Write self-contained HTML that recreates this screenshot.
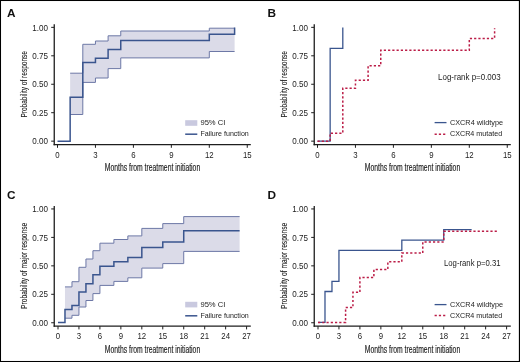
<!DOCTYPE html>
<html><head><meta charset="utf-8"><title>Figure</title>
<style>html,body{margin:0;padding:0;background:#fff;width:520px;height:362px;overflow:hidden}svg{display:block;filter:blur(0.3px)}text{font-family:"Liberation Sans", sans-serif}</style>
</head><body>
<svg width="520" height="362" viewBox="0 0 520 362" font-family='"Liberation Sans", sans-serif'>
<rect x="0" y="0" width="520" height="362" fill="#fff"/>
<text x="7.0" y="17.0" font-size="11.8" font-weight="bold" fill="#111">A</text>
<text x="267.6" y="17.0" font-size="11.8" font-weight="bold" fill="#111">B</text>
<text x="7.0" y="198.6" font-size="11.8" font-weight="bold" fill="#111">C</text>
<text x="267.6" y="198.6" font-size="11.8" font-weight="bold" fill="#111">D</text>
<polygon points="70.15,73.20 82.80,73.20 82.80,44.30 95.45,44.30 95.45,41.00 108.10,41.00 108.10,35.80 120.75,35.80 120.75,31.00 209.30,31.00 209.30,28.20 234.60,28.20 234.60,51.50 209.30,51.50 209.30,57.90 120.75,57.90 120.75,68.60 108.10,68.60 108.10,78.00 95.45,78.00 95.45,82.40 82.80,82.40 82.80,114.50 70.15,114.50" fill="#dbdbe8"/>
<path d="M70.15,73.20L82.80,73.20L82.80,44.30L95.45,44.30L95.45,41.00L108.10,41.00L108.10,35.80L120.75,35.80L120.75,31.00L209.30,31.00L209.30,28.20L234.60,28.20" fill="none" stroke="#6d78a6" stroke-width="1"/>
<path d="M70.15,114.50L82.80,114.50L82.80,82.40L95.45,82.40L95.45,78.00L108.10,78.00L108.10,68.60L120.75,68.60L120.75,57.90L209.30,57.90L209.30,51.50L234.60,51.50" fill="none" stroke="#6d78a6" stroke-width="1"/>
<path d="M57.50,141.15L70.15,141.15L70.15,97.30L82.80,97.30L82.80,62.60L95.45,62.60L95.45,58.30L108.10,58.30L108.10,49.60L120.75,49.60L120.75,40.50L209.30,40.50L209.30,34.30L234.60,34.30L234.60,27.4" fill="none" stroke="#3a558e" stroke-width="1.5"/>
<line x1="54.25" y1="24.30" x2="54.25" y2="145.20" stroke="#1e1e1e" stroke-width="1.3"/>
<line x1="51.2" y1="27.35" x2="54.0" y2="27.35" stroke="#1e1e1e" stroke-width="1"/>
<text x="47.9" y="30.50" text-anchor="end" font-size="8.2" fill="#1c1c1c" textLength="15.70" lengthAdjust="spacingAndGlyphs">1.00</text>
<line x1="51.2" y1="55.80" x2="54.0" y2="55.80" stroke="#1e1e1e" stroke-width="1"/>
<text x="47.9" y="58.95" text-anchor="end" font-size="8.2" fill="#1c1c1c" textLength="15.70" lengthAdjust="spacingAndGlyphs">0.75</text>
<line x1="51.2" y1="84.25" x2="54.0" y2="84.25" stroke="#1e1e1e" stroke-width="1"/>
<text x="47.9" y="87.40" text-anchor="end" font-size="8.2" fill="#1c1c1c" textLength="15.70" lengthAdjust="spacingAndGlyphs">0.50</text>
<line x1="51.2" y1="112.70" x2="54.0" y2="112.70" stroke="#1e1e1e" stroke-width="1"/>
<text x="47.9" y="115.85" text-anchor="end" font-size="8.2" fill="#1c1c1c" textLength="15.70" lengthAdjust="spacingAndGlyphs">0.25</text>
<line x1="51.2" y1="141.15" x2="54.0" y2="141.15" stroke="#1e1e1e" stroke-width="1"/>
<text x="47.9" y="144.30" text-anchor="end" font-size="8.2" fill="#1c1c1c" textLength="15.70" lengthAdjust="spacingAndGlyphs">0.00</text>
<line x1="53.6" y1="144.55" x2="250.8" y2="144.55" stroke="#1e1e1e" stroke-width="1.3"/>
<line x1="57.50" y1="144.55" x2="57.50" y2="147.80" stroke="#1e1e1e" stroke-width="1"/>
<text x="57.50" y="157.80" text-anchor="middle" font-size="8.3" fill="#1c1c1c" textLength="4.35" lengthAdjust="spacingAndGlyphs">0</text>
<line x1="95.45" y1="144.55" x2="95.45" y2="147.80" stroke="#1e1e1e" stroke-width="1"/>
<text x="95.45" y="157.80" text-anchor="middle" font-size="8.3" fill="#1c1c1c" textLength="4.35" lengthAdjust="spacingAndGlyphs">3</text>
<line x1="133.40" y1="144.55" x2="133.40" y2="147.80" stroke="#1e1e1e" stroke-width="1"/>
<text x="133.40" y="157.80" text-anchor="middle" font-size="8.3" fill="#1c1c1c" textLength="4.35" lengthAdjust="spacingAndGlyphs">6</text>
<line x1="171.35" y1="144.55" x2="171.35" y2="147.80" stroke="#1e1e1e" stroke-width="1"/>
<text x="171.35" y="157.80" text-anchor="middle" font-size="8.3" fill="#1c1c1c" textLength="4.35" lengthAdjust="spacingAndGlyphs">9</text>
<line x1="209.30" y1="144.55" x2="209.30" y2="147.80" stroke="#1e1e1e" stroke-width="1"/>
<text x="209.30" y="157.80" text-anchor="middle" font-size="8.3" fill="#1c1c1c" textLength="8.70" lengthAdjust="spacingAndGlyphs">12</text>
<line x1="247.25" y1="144.55" x2="247.25" y2="147.80" stroke="#1e1e1e" stroke-width="1"/>
<text x="247.25" y="157.80" text-anchor="middle" font-size="8.3" fill="#1c1c1c" textLength="8.70" lengthAdjust="spacingAndGlyphs">15</text>
<text x="104.8" y="170.60" font-size="10" fill="#1c1c1c" stroke="#1c1c1c" stroke-width="0.15" textLength="95.4" lengthAdjust="spacingAndGlyphs">Months from treatment initiation</text>
<text transform="translate(26.70,84.30) rotate(-90)" x="0" y="0" text-anchor="middle" font-size="9.3" fill="#1c1c1c" stroke="#1c1c1c" stroke-width="0.12" textLength="66.6" lengthAdjust="spacingAndGlyphs">Probability of response</text>
<rect x="185.2" y="120.2" width="12.1" height="5.6" fill="#c9c9df"/>
<text x="200.4" y="124.9" font-size="7.8" fill="#1c1c1c" textLength="25.0" lengthAdjust="spacingAndGlyphs">95% CI</text>
<line x1="185.2" y1="134.2" x2="197.3" y2="134.2" stroke="#3a558e" stroke-width="1.5"/>
<text x="200.4" y="136.4" font-size="7.8" fill="#1c1c1c" textLength="48.4" lengthAdjust="spacingAndGlyphs">Failure function</text>
<path d="M317.50,141.15L330.15,141.15L330.15,48.4L342.80,48.4L342.80,27.5" fill="none" stroke="#3a558e" stroke-width="1.3"/>
<path d="M317.50,141.15L330.15,141.15L330.15,133.20L342.80,133.20L342.80,88.20L355.45,88.20L355.45,80.30L368.10,80.30L368.10,65.70L380.75,65.70L380.75,50.20L469.30,50.20L469.30,38.50L494.60,38.50L494.60,28.3" fill="none" stroke="#bb1d47" stroke-width="1.5" stroke-dasharray="2.2 2.05"/>
<line x1="314.25" y1="24.30" x2="314.25" y2="145.20" stroke="#1e1e1e" stroke-width="1.3"/>
<line x1="311.2" y1="27.35" x2="314.0" y2="27.35" stroke="#1e1e1e" stroke-width="1"/>
<text x="307.9" y="30.50" text-anchor="end" font-size="8.2" fill="#1c1c1c" textLength="15.70" lengthAdjust="spacingAndGlyphs">1.00</text>
<line x1="311.2" y1="55.80" x2="314.0" y2="55.80" stroke="#1e1e1e" stroke-width="1"/>
<text x="307.9" y="58.95" text-anchor="end" font-size="8.2" fill="#1c1c1c" textLength="15.70" lengthAdjust="spacingAndGlyphs">0.75</text>
<line x1="311.2" y1="84.25" x2="314.0" y2="84.25" stroke="#1e1e1e" stroke-width="1"/>
<text x="307.9" y="87.40" text-anchor="end" font-size="8.2" fill="#1c1c1c" textLength="15.70" lengthAdjust="spacingAndGlyphs">0.50</text>
<line x1="311.2" y1="112.70" x2="314.0" y2="112.70" stroke="#1e1e1e" stroke-width="1"/>
<text x="307.9" y="115.85" text-anchor="end" font-size="8.2" fill="#1c1c1c" textLength="15.70" lengthAdjust="spacingAndGlyphs">0.25</text>
<line x1="311.2" y1="141.15" x2="314.0" y2="141.15" stroke="#1e1e1e" stroke-width="1"/>
<text x="307.9" y="144.30" text-anchor="end" font-size="8.2" fill="#1c1c1c" textLength="15.70" lengthAdjust="spacingAndGlyphs">0.00</text>
<line x1="313.6" y1="144.55" x2="510.8" y2="144.55" stroke="#1e1e1e" stroke-width="1.3"/>
<line x1="317.50" y1="144.55" x2="317.50" y2="147.80" stroke="#1e1e1e" stroke-width="1"/>
<text x="317.50" y="157.80" text-anchor="middle" font-size="8.3" fill="#1c1c1c" textLength="4.35" lengthAdjust="spacingAndGlyphs">0</text>
<line x1="355.45" y1="144.55" x2="355.45" y2="147.80" stroke="#1e1e1e" stroke-width="1"/>
<text x="355.45" y="157.80" text-anchor="middle" font-size="8.3" fill="#1c1c1c" textLength="4.35" lengthAdjust="spacingAndGlyphs">3</text>
<line x1="393.40" y1="144.55" x2="393.40" y2="147.80" stroke="#1e1e1e" stroke-width="1"/>
<text x="393.40" y="157.80" text-anchor="middle" font-size="8.3" fill="#1c1c1c" textLength="4.35" lengthAdjust="spacingAndGlyphs">6</text>
<line x1="431.35" y1="144.55" x2="431.35" y2="147.80" stroke="#1e1e1e" stroke-width="1"/>
<text x="431.35" y="157.80" text-anchor="middle" font-size="8.3" fill="#1c1c1c" textLength="4.35" lengthAdjust="spacingAndGlyphs">9</text>
<line x1="469.30" y1="144.55" x2="469.30" y2="147.80" stroke="#1e1e1e" stroke-width="1"/>
<text x="469.30" y="157.80" text-anchor="middle" font-size="8.3" fill="#1c1c1c" textLength="8.70" lengthAdjust="spacingAndGlyphs">12</text>
<line x1="507.25" y1="144.55" x2="507.25" y2="147.80" stroke="#1e1e1e" stroke-width="1"/>
<text x="507.25" y="157.80" text-anchor="middle" font-size="8.3" fill="#1c1c1c" textLength="8.70" lengthAdjust="spacingAndGlyphs">15</text>
<text x="364.8" y="170.60" font-size="10" fill="#1c1c1c" stroke="#1c1c1c" stroke-width="0.15" textLength="95.4" lengthAdjust="spacingAndGlyphs">Months from treatment initiation</text>
<text transform="translate(286.70,84.30) rotate(-90)" x="0" y="0" text-anchor="middle" font-size="9.3" fill="#1c1c1c" stroke="#1c1c1c" stroke-width="0.12" textLength="66.6" lengthAdjust="spacingAndGlyphs">Probability of response</text>
<text x="500.6" y="80.1" text-anchor="end" font-size="8.3" fill="#1c1c1c" textLength="62.5" lengthAdjust="spacingAndGlyphs">Log-rank p=0.003</text>
<line x1="434.6" y1="122.6" x2="446.5" y2="122.6" stroke="#3a558e" stroke-width="1.3"/>
<text x="450" y="125.4" font-size="7.8" fill="#1c1c1c" textLength="53" lengthAdjust="spacingAndGlyphs">CXCR4 wildtype</text>
<line x1="434.6" y1="134.2" x2="446.5" y2="134.2" stroke="#bb1d47" stroke-width="1.5" stroke-dasharray="2.2 2.05"/>
<text x="450" y="136.2" font-size="7.8" fill="#1c1c1c" textLength="52.3" lengthAdjust="spacingAndGlyphs">CXCR4 mutated</text>
<polygon points="64.98,286.90 71.97,286.90 71.97,281.70 78.95,281.70 78.95,267.30 85.94,267.30 85.94,259.00 92.93,259.00 92.93,250.70 99.91,250.70 99.91,243.20 113.88,243.20 113.88,239.50 127.85,239.50 127.85,235.90 141.82,235.90 141.82,228.40 162.78,228.40 162.78,223.60 183.73,223.60 183.73,216.60 239.61,216.60 239.61,251.40 183.73,251.40 183.73,263.60 162.78,263.60 162.78,268.10 141.82,268.10 141.82,277.80 127.85,277.80 127.85,281.40 113.88,281.40 113.88,285.40 99.91,285.40 99.91,293.60 92.93,293.60 92.93,300.50 85.94,300.50 85.94,307.00 78.95,307.00 78.95,315.30 71.97,315.30 71.97,318.20 64.98,318.20" fill="#dbdbe8"/>
<path d="M64.98,286.90L71.97,286.90L71.97,281.70L78.95,281.70L78.95,267.30L85.94,267.30L85.94,259.00L92.93,259.00L92.93,250.70L99.91,250.70L99.91,243.20L113.88,243.20L113.88,239.50L127.85,239.50L127.85,235.90L141.82,235.90L141.82,228.40L162.78,228.40L162.78,223.60L183.73,223.60L183.73,216.60L239.61,216.60" fill="none" stroke="#6d78a6" stroke-width="1"/>
<path d="M64.98,318.20L71.97,318.20L71.97,315.30L78.95,315.30L78.95,307.00L85.94,307.00L85.94,300.50L92.93,300.50L92.93,293.60L99.91,293.60L99.91,285.40L113.88,285.40L113.88,281.40L127.85,281.40L127.85,277.80L141.82,277.80L141.82,268.10L162.78,268.10L162.78,263.60L183.73,263.60L183.73,251.40L239.61,251.40" fill="none" stroke="#6d78a6" stroke-width="1"/>
<path d="M58.00,322.4L64.98,322.4L64.98,309.40L71.97,309.40L71.97,305.40L78.95,305.40L78.95,292.10L85.94,292.10L85.94,283.70L92.93,283.70L92.93,274.80L99.91,274.80L99.91,266.30L113.88,266.30L113.88,261.80L127.85,261.80L127.85,257.50L141.82,257.50L141.82,247.60L162.78,247.60L162.78,242.00L183.73,242.00L183.73,230.70L239.61,230.70" fill="none" stroke="#3a558e" stroke-width="1.5"/>
<line x1="54.25" y1="205.90" x2="54.25" y2="326.80" stroke="#1e1e1e" stroke-width="1.3"/>
<line x1="51.2" y1="208.95" x2="54.0" y2="208.95" stroke="#1e1e1e" stroke-width="1"/>
<text x="47.9" y="212.10" text-anchor="end" font-size="8.2" fill="#1c1c1c" textLength="15.70" lengthAdjust="spacingAndGlyphs">1.00</text>
<line x1="51.2" y1="237.40" x2="54.0" y2="237.40" stroke="#1e1e1e" stroke-width="1"/>
<text x="47.9" y="240.55" text-anchor="end" font-size="8.2" fill="#1c1c1c" textLength="15.70" lengthAdjust="spacingAndGlyphs">0.75</text>
<line x1="51.2" y1="265.85" x2="54.0" y2="265.85" stroke="#1e1e1e" stroke-width="1"/>
<text x="47.9" y="269.00" text-anchor="end" font-size="8.2" fill="#1c1c1c" textLength="15.70" lengthAdjust="spacingAndGlyphs">0.50</text>
<line x1="51.2" y1="294.30" x2="54.0" y2="294.30" stroke="#1e1e1e" stroke-width="1"/>
<text x="47.9" y="297.45" text-anchor="end" font-size="8.2" fill="#1c1c1c" textLength="15.70" lengthAdjust="spacingAndGlyphs">0.25</text>
<line x1="51.2" y1="322.75" x2="54.0" y2="322.75" stroke="#1e1e1e" stroke-width="1"/>
<text x="47.9" y="325.90" text-anchor="end" font-size="8.2" fill="#1c1c1c" textLength="15.70" lengthAdjust="spacingAndGlyphs">0.00</text>
<line x1="53.6" y1="326.15" x2="250.8" y2="326.15" stroke="#1e1e1e" stroke-width="1.3"/>
<line x1="58.00" y1="326.15" x2="58.00" y2="329.40" stroke="#1e1e1e" stroke-width="1"/>
<text x="58.00" y="339.40" text-anchor="middle" font-size="8.3" fill="#1c1c1c" textLength="4.35" lengthAdjust="spacingAndGlyphs">0</text>
<line x1="78.95" y1="326.15" x2="78.95" y2="329.40" stroke="#1e1e1e" stroke-width="1"/>
<text x="78.95" y="339.40" text-anchor="middle" font-size="8.3" fill="#1c1c1c" textLength="4.35" lengthAdjust="spacingAndGlyphs">3</text>
<line x1="99.91" y1="326.15" x2="99.91" y2="329.40" stroke="#1e1e1e" stroke-width="1"/>
<text x="99.91" y="339.40" text-anchor="middle" font-size="8.3" fill="#1c1c1c" textLength="4.35" lengthAdjust="spacingAndGlyphs">6</text>
<line x1="120.87" y1="326.15" x2="120.87" y2="329.40" stroke="#1e1e1e" stroke-width="1"/>
<text x="120.87" y="339.40" text-anchor="middle" font-size="8.3" fill="#1c1c1c" textLength="4.35" lengthAdjust="spacingAndGlyphs">9</text>
<line x1="141.82" y1="326.15" x2="141.82" y2="329.40" stroke="#1e1e1e" stroke-width="1"/>
<text x="141.82" y="339.40" text-anchor="middle" font-size="8.3" fill="#1c1c1c" textLength="8.70" lengthAdjust="spacingAndGlyphs">12</text>
<line x1="162.78" y1="326.15" x2="162.78" y2="329.40" stroke="#1e1e1e" stroke-width="1"/>
<text x="162.78" y="339.40" text-anchor="middle" font-size="8.3" fill="#1c1c1c" textLength="8.70" lengthAdjust="spacingAndGlyphs">15</text>
<line x1="183.73" y1="326.15" x2="183.73" y2="329.40" stroke="#1e1e1e" stroke-width="1"/>
<text x="183.73" y="339.40" text-anchor="middle" font-size="8.3" fill="#1c1c1c" textLength="8.70" lengthAdjust="spacingAndGlyphs">18</text>
<line x1="204.69" y1="326.15" x2="204.69" y2="329.40" stroke="#1e1e1e" stroke-width="1"/>
<text x="204.69" y="339.40" text-anchor="middle" font-size="8.3" fill="#1c1c1c" textLength="8.70" lengthAdjust="spacingAndGlyphs">21</text>
<line x1="225.64" y1="326.15" x2="225.64" y2="329.40" stroke="#1e1e1e" stroke-width="1"/>
<text x="225.64" y="339.40" text-anchor="middle" font-size="8.3" fill="#1c1c1c" textLength="8.70" lengthAdjust="spacingAndGlyphs">24</text>
<line x1="246.59" y1="326.15" x2="246.59" y2="329.40" stroke="#1e1e1e" stroke-width="1"/>
<text x="246.59" y="339.40" text-anchor="middle" font-size="8.3" fill="#1c1c1c" textLength="8.70" lengthAdjust="spacingAndGlyphs">27</text>
<text x="104.8" y="352.70" font-size="10" fill="#1c1c1c" stroke="#1c1c1c" stroke-width="0.15" textLength="95.4" lengthAdjust="spacingAndGlyphs">Months from treatment initiation</text>
<text transform="translate(26.70,265.80) rotate(-90)" x="0" y="0" text-anchor="middle" font-size="9.3" fill="#1c1c1c" stroke="#1c1c1c" stroke-width="0.12" textLength="86.2" lengthAdjust="spacingAndGlyphs">Probability of major response</text>
<rect x="185.2" y="301.8" width="12.1" height="5.6" fill="#c9c9df"/>
<text x="200.4" y="306.5" font-size="7.8" fill="#1c1c1c" textLength="25.0" lengthAdjust="spacingAndGlyphs">95% CI</text>
<line x1="185.2" y1="315.8" x2="197.3" y2="315.8" stroke="#3a558e" stroke-width="1.5"/>
<text x="200.4" y="318.0" font-size="7.8" fill="#1c1c1c" textLength="48.4" lengthAdjust="spacingAndGlyphs">Failure function</text>
<path d="M318.00,322.40L324.99,322.40L324.99,291.50L331.97,291.50L331.97,281.40L338.95,281.40L338.95,250.30L401.82,250.30L401.82,240.20L443.73,240.20L443.73,229.60L471.67,229.60" fill="none" stroke="#3a558e" stroke-width="1.3"/>
<path d="M318.00,322.40L345.59,322.40L345.59,307.60L352.93,307.60L352.93,292.30L359.91,292.30L359.91,277.60L373.88,277.60L373.88,269.60L387.85,269.60L387.85,261.80L401.82,261.80L401.82,253.10L422.77,253.10L422.77,241.90L443.73,241.90L443.73,231.30L498.21,231.30" fill="none" stroke="#bb1d47" stroke-width="1.5" stroke-dasharray="2.2 2.05"/>
<line x1="314.25" y1="205.90" x2="314.25" y2="326.80" stroke="#1e1e1e" stroke-width="1.3"/>
<line x1="311.2" y1="208.95" x2="314.0" y2="208.95" stroke="#1e1e1e" stroke-width="1"/>
<text x="307.9" y="212.10" text-anchor="end" font-size="8.2" fill="#1c1c1c" textLength="15.70" lengthAdjust="spacingAndGlyphs">1.00</text>
<line x1="311.2" y1="237.40" x2="314.0" y2="237.40" stroke="#1e1e1e" stroke-width="1"/>
<text x="307.9" y="240.55" text-anchor="end" font-size="8.2" fill="#1c1c1c" textLength="15.70" lengthAdjust="spacingAndGlyphs">0.75</text>
<line x1="311.2" y1="265.85" x2="314.0" y2="265.85" stroke="#1e1e1e" stroke-width="1"/>
<text x="307.9" y="269.00" text-anchor="end" font-size="8.2" fill="#1c1c1c" textLength="15.70" lengthAdjust="spacingAndGlyphs">0.50</text>
<line x1="311.2" y1="294.30" x2="314.0" y2="294.30" stroke="#1e1e1e" stroke-width="1"/>
<text x="307.9" y="297.45" text-anchor="end" font-size="8.2" fill="#1c1c1c" textLength="15.70" lengthAdjust="spacingAndGlyphs">0.25</text>
<line x1="311.2" y1="322.75" x2="314.0" y2="322.75" stroke="#1e1e1e" stroke-width="1"/>
<text x="307.9" y="325.90" text-anchor="end" font-size="8.2" fill="#1c1c1c" textLength="15.70" lengthAdjust="spacingAndGlyphs">0.00</text>
<line x1="313.6" y1="326.15" x2="510.8" y2="326.15" stroke="#1e1e1e" stroke-width="1.3"/>
<line x1="318.00" y1="326.15" x2="318.00" y2="329.40" stroke="#1e1e1e" stroke-width="1"/>
<text x="318.00" y="339.40" text-anchor="middle" font-size="8.3" fill="#1c1c1c" textLength="4.35" lengthAdjust="spacingAndGlyphs">0</text>
<line x1="338.95" y1="326.15" x2="338.95" y2="329.40" stroke="#1e1e1e" stroke-width="1"/>
<text x="338.95" y="339.40" text-anchor="middle" font-size="8.3" fill="#1c1c1c" textLength="4.35" lengthAdjust="spacingAndGlyphs">3</text>
<line x1="359.91" y1="326.15" x2="359.91" y2="329.40" stroke="#1e1e1e" stroke-width="1"/>
<text x="359.91" y="339.40" text-anchor="middle" font-size="8.3" fill="#1c1c1c" textLength="4.35" lengthAdjust="spacingAndGlyphs">6</text>
<line x1="380.87" y1="326.15" x2="380.87" y2="329.40" stroke="#1e1e1e" stroke-width="1"/>
<text x="380.87" y="339.40" text-anchor="middle" font-size="8.3" fill="#1c1c1c" textLength="4.35" lengthAdjust="spacingAndGlyphs">9</text>
<line x1="401.82" y1="326.15" x2="401.82" y2="329.40" stroke="#1e1e1e" stroke-width="1"/>
<text x="401.82" y="339.40" text-anchor="middle" font-size="8.3" fill="#1c1c1c" textLength="8.70" lengthAdjust="spacingAndGlyphs">12</text>
<line x1="422.77" y1="326.15" x2="422.77" y2="329.40" stroke="#1e1e1e" stroke-width="1"/>
<text x="422.77" y="339.40" text-anchor="middle" font-size="8.3" fill="#1c1c1c" textLength="8.70" lengthAdjust="spacingAndGlyphs">15</text>
<line x1="443.73" y1="326.15" x2="443.73" y2="329.40" stroke="#1e1e1e" stroke-width="1"/>
<text x="443.73" y="339.40" text-anchor="middle" font-size="8.3" fill="#1c1c1c" textLength="8.70" lengthAdjust="spacingAndGlyphs">18</text>
<line x1="464.69" y1="326.15" x2="464.69" y2="329.40" stroke="#1e1e1e" stroke-width="1"/>
<text x="464.69" y="339.40" text-anchor="middle" font-size="8.3" fill="#1c1c1c" textLength="8.70" lengthAdjust="spacingAndGlyphs">21</text>
<line x1="485.64" y1="326.15" x2="485.64" y2="329.40" stroke="#1e1e1e" stroke-width="1"/>
<text x="485.64" y="339.40" text-anchor="middle" font-size="8.3" fill="#1c1c1c" textLength="8.70" lengthAdjust="spacingAndGlyphs">24</text>
<line x1="506.60" y1="326.15" x2="506.60" y2="329.40" stroke="#1e1e1e" stroke-width="1"/>
<text x="506.60" y="339.40" text-anchor="middle" font-size="8.3" fill="#1c1c1c" textLength="8.70" lengthAdjust="spacingAndGlyphs">27</text>
<text x="364.8" y="352.70" font-size="10" fill="#1c1c1c" stroke="#1c1c1c" stroke-width="0.15" textLength="95.4" lengthAdjust="spacingAndGlyphs">Months from treatment initiation</text>
<text transform="translate(286.70,265.80) rotate(-90)" x="0" y="0" text-anchor="middle" font-size="9.3" fill="#1c1c1c" stroke="#1c1c1c" stroke-width="0.12" textLength="86.2" lengthAdjust="spacingAndGlyphs">Probability of major response</text>
<text x="500.6" y="265.9" text-anchor="end" font-size="8.3" fill="#1c1c1c" textLength="56.6" lengthAdjust="spacingAndGlyphs">Log-rank p=0.31</text>
<line x1="434.6" y1="304.6" x2="446.5" y2="304.6" stroke="#3a558e" stroke-width="1.3"/>
<text x="450" y="306.9" font-size="7.8" fill="#1c1c1c" textLength="53" lengthAdjust="spacingAndGlyphs">CXCR4 wildtype</text>
<line x1="434.6" y1="315.6" x2="446.5" y2="315.6" stroke="#bb1d47" stroke-width="1.5" stroke-dasharray="2.2 2.05"/>
<text x="450" y="318.0" font-size="7.8" fill="#1c1c1c" textLength="52.3" lengthAdjust="spacingAndGlyphs">CXCR4 mutated</text>
<rect x="0.5" y="0.5" width="519" height="361" fill="none" stroke="#000" stroke-width="1.05"/>
<line x1="519.45" y1="0" x2="519.45" y2="362" stroke="#000" stroke-width="1.1"/>
<line x1="0" y1="361.45" x2="520" y2="361.45" stroke="#000" stroke-width="1.1"/>
</svg>
</body></html>
